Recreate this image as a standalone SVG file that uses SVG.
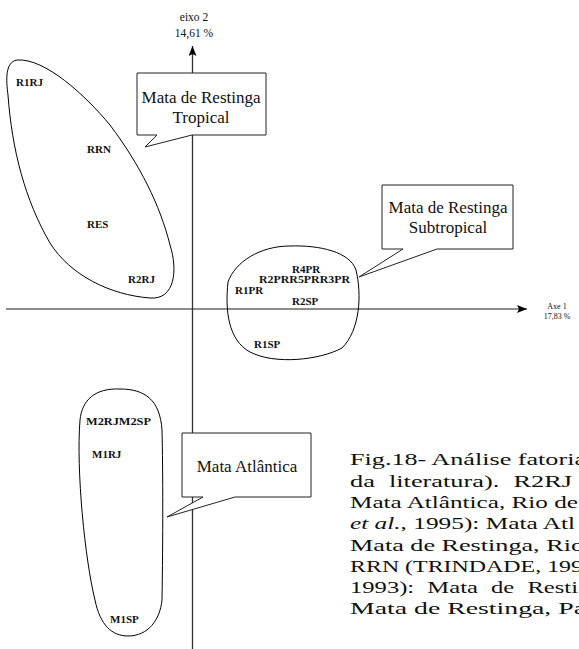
<svg xmlns="http://www.w3.org/2000/svg" width="579" height="649" viewBox="0 0 579 649">
<defs>
<marker id="arr" viewBox="0 0 10 8" refX="10" refY="4" markerWidth="10" markerHeight="8" markerUnits="userSpaceOnUse" orient="auto">
<path d="M0,0 L10,4 L0,8 L2,4 Z" fill="#000"/>
</marker>
<style>
.ax{stroke:#666;stroke-width:1.3;fill:none}
.blob{fill:none;stroke:#000;stroke-width:1}
.call{fill:#fff;stroke:#222;stroke-width:1}
.lbl{font-family:"Liberation Serif",serif;font-weight:bold;font-size:11px;fill:#111}
.ct{font-family:"Liberation Serif",serif;font-size:17px;fill:#111;text-anchor:middle}
.at{font-family:"Liberation Serif",serif;fill:#111;text-anchor:middle}
.cap{font-family:"Liberation Serif",serif;font-size:17.5px;fill:#111}
</style>
</defs>
<rect width="579" height="649" fill="#fff"/>
<g id="connectors">
<line class="ax" x1="6" y1="309" x2="527" y2="309" marker-end="url(#arr)"/>
<line class="ax" x1="192.5" y1="649" x2="192.5" y2="46" marker-end="url(#arr)" style="stroke:#333"/>
</g>
<g id="axis-labels">
<text class="at" x="194" y="21" font-size="11.5">eixo 2</text>
<text class="at" x="194" y="37" font-size="11.5">14,61 %</text>
<text class="at" x="557" y="309" font-size="8">Axe 1</text>
<text class="at" x="557" y="319" font-size="8">17,83 %</text>
</g>
<g id="group-tropical">
<path class="blob" d="M17,60 C5,62 6,80 8,95 C12,150 25,200 50,243 C70,275 110,295 150,298 C175,300 178,270 170,245 C160,205 140,165 110,125 C85,95 45,58 17,60 Z"/>
<text class="lbl" x="16" y="86">R1RJ</text>
<text class="lbl" x="87" y="153">RRN</text>
<text class="lbl" x="87" y="228">RES</text>
<text class="lbl" x="128" y="283">R2RJ</text>
</g>
<g id="group-subtropical">
<path class="blob" d="M290,246 C260,246 235,262 228,282 C225,310 228,340 250,352 C275,365 320,360 342,348 C360,330 362,295 356,270 C350,252 320,245 290,246 Z"/>
<text class="lbl" x="292" y="272.5">R4PR</text>
<text class="lbl" x="259" y="283" textLength="91" lengthAdjust="spacingAndGlyphs">R2PRR5PRR3PR</text>
<text class="lbl" x="235" y="294">R1PR</text>
<text class="lbl" x="292" y="305">R2SP</text>
<text class="lbl" x="254" y="348">R1SP</text>
</g>
<g id="group-atlantica">
<path class="blob" d="M120,389 C95,388 82,400 80,420 C76,470 85,560 95,600 C100,625 112,636 128,636 C148,636 160,620 162,600 C163,540 163,470 162,430 C160,400 145,389 120,389 Z"/>
<text class="lbl" x="86" y="425" textLength="65" lengthAdjust="spacingAndGlyphs">M2RJM2SP</text>
<text class="lbl" x="92" y="458">M1RJ</text>
<text class="lbl" x="110" y="623">M1SP</text>
</g>
<g id="callout-tropical">
<path class="call" d="M137,73 H266 V135 H192 L145,147 L157,135 H137 Z"/>
<text class="ct" x="201" y="103">Mata de Restinga</text>
<text class="ct" x="201" y="123">Tropical</text>
</g>
<g id="callout-subtropical">
<path class="call" d="M382,185 H513 V249 H437 L359,277 L403,249 H382 Z"/>
<text class="ct" x="448" y="213">Mata de Restinga</text>
<text class="ct" x="448" y="233">Subtropical</text>
</g>
<g id="callout-atlantica">
<path class="call" d="M182,433 H311 V497 H235 L167,517 L203,497 H182 Z"/>
<text class="ct" x="247" y="472">Mata Atlântica</text>
</g>
<g id="caption">
<text class="cap" x="350" y="465" textLength="236" lengthAdjust="spacingAndGlyphs">Fig.18- Análise fatoria</text>
<text class="cap" x="350" y="487" textLength="222" lengthAdjust="spacingAndGlyphs" word-spacing="5">da literatura). R2RJ</text>
<text class="cap" x="350" y="508" textLength="228" lengthAdjust="spacingAndGlyphs">Mata Atlântica, Rio de</text>
<text class="cap" x="350" y="529" textLength="225" lengthAdjust="spacingAndGlyphs"><tspan font-style="italic">et al.</tspan>, 1995): Mata Atl</text>
<text class="cap" x="350" y="551" textLength="234" lengthAdjust="spacingAndGlyphs">Mata de Restinga, Rio</text>
<text class="cap" x="350" y="572" textLength="233" lengthAdjust="spacingAndGlyphs">RRN (TRINDADE, 199</text>
<text class="cap" x="350" y="593" textLength="228" lengthAdjust="spacingAndGlyphs" word-spacing="5">1993): Mata de Resti</text>
<text class="cap" x="350" y="614" textLength="236" lengthAdjust="spacingAndGlyphs">Mata de Restinga, Pa</text>
</g>
</svg>
